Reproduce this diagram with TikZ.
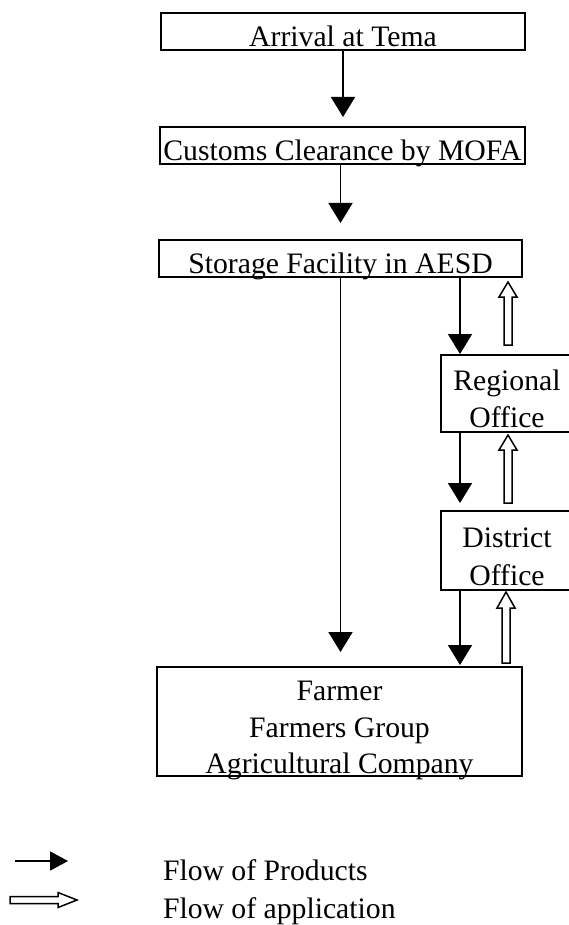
\documentclass[tikz,border=0pt]{standalone}
\usepackage{fontspec}
\setmainfont{Liberation Serif}
\usetikzlibrary{arrows.meta,calc}
\tikzset{
  boxn/.style={draw, line width=2pt, inner sep=0pt, outer sep=0pt},
  onebox/.style={boxn, text height=34pt, text depth=3pt},
  lbl/.style={inner sep=0pt, outer sep=0pt},
  prod/.style={line width=1.8pt, -{Triangle[width=24pt,length=20pt]}},
  prodsmall/.style={line width=1.8pt, -{Triangle[width=19pt,length=18pt]}},
  appline/.style={draw, line width=1.5pt, fill=white, line join=miter}
}
% hollow (application) arrow: #1 start, #2 tip, #3 head length, #4 shaft half width, #5 head half width
\newcommand\apparrow[5]{%
  \coordinate (hb) at ($(#2)!#3!(#1)$);
  \draw[appline] ($(#1)!#4!90:(#2)$) -- ($(hb)!#4!90:(#2)$) -- ($(hb)!#5!90:(#2)$) -- (#2)
    -- ($(hb)!#5!-90:(#2)$) -- ($(hb)!#4!-90:(#2)$) -- ($(#1)!#4!-90:(#2)$) -- cycle;}
\begin{document}
\begin{tikzpicture}[x=1pt,y=-1pt,font=\fontsize{29.7pt}{36pt}\selectfont]
\useasboundingbox (0,0) rectangle (568,925);
\fill[white] (0,0) rectangle (568,925);

% main boxes
\node[onebox, minimum width=364pt] (arr) at (343,31.5) {Arrival at Tema};
\node[onebox, minimum width=365pt] (cus) at (342.5,145.5) {Customs Clearance by MOFA};
\node[boxn, minimum width=363pt, text height=33pt, text depth=4pt] (stor) at (340.5,258.5) {Storage Facility in AESD};
\node[boxn, minimum width=132pt, minimum height=77pt] (reg) at (507,393.5) {};
\node[boxn, minimum width=132pt, minimum height=79pt] (dist) at (507,550.5) {};
\node[boxn, minimum width=365pt, minimum height=109pt] (farm) at (339.5,721.5) {};

% texts in multi-line boxes
\node[lbl, anchor=base] (reg1) at (507,390) {Regional};
\node[lbl, anchor=base] (reg2) at (507,427) {Office};
\node[lbl, anchor=base] (dis1) at (507,547) {District};
\node[lbl, anchor=base] (dis2) at (507,585) {Office};
\node[lbl, anchor=base] (far1) at (339.5,700) {Farmer};
\node[lbl, anchor=base] (far2) at (339.5,737) {Farmers Group};
\node[lbl, anchor=base] (far3) at (339.5,773) {Agricultural Company};

% flow of products
\draw[prod, shorten >=10pt] (arr.south) -- (arr.south |- cus.north);
\draw[prod, shorten >=17pt] (stor.north |- cus.south) -- (stor.north);
\draw[prod, shorten >=15pt] (stor.south) -- (stor.south |- farm.north);
\coordinate (px) at ($(reg.north west)+(19,0)$);
\draw[prod, shorten >=1pt] (px |- stor.south) -- (px);
\draw[prod, shorten >=8pt] (px |- reg.south) -- (px |- dist.north);
\draw[prod, shorten >=2pt] (px |- dist.south) -- (px |- farm.north);

% flow of application
\coordinate (ax) at (reg.north);
\coordinate (h1s) at ($(ax |- reg.north)+(1,-10)$);
\coordinate (h1t) at ($(ax |- stor.south)+(1,5)$);
\coordinate (h2s) at ($(ax |- dist.north)+(1,-8)$);
\coordinate (h2t) at ($(ax |- reg.south)+(1,3)$);
\coordinate (h3s) at ($(ax |- farm.north)+(-1,-4)$);
\coordinate (h3t) at ($(ax |- dist.south)+(-1,2)$);
\apparrow{h1s}{h1t}{15pt}{4pt}{9pt}
\apparrow{h2s}{h2t}{15pt}{4pt}{9pt}
\apparrow{h3s}{h3t}{16pt}{4pt}{9pt}

% legend
\coordinate (lp1) at (15,861);
\coordinate (lp2) at (68,861);
\draw[prodsmall] (lp1) -- (lp2);
\coordinate (la1) at (10,900);
\coordinate (la2) at (77,900);
\apparrow{la1}{la2}{19pt}{3.5pt}{7.5pt}
\node[lbl, anchor=base west] (leg1) at (163,880) {Flow of Products};
\node[lbl, anchor=base west] (leg2) at (163,918) {Flow of application};
\end{tikzpicture}
\end{document}
